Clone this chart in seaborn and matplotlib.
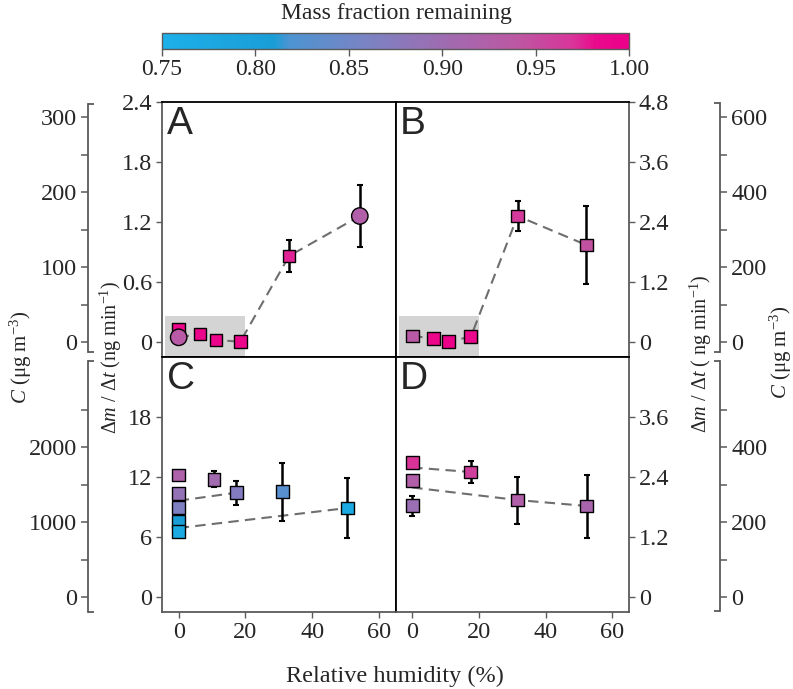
import numpy as np
import pandas as pd
import seaborn as sns
import matplotlib.pyplot as plt
import matplotlib.transforms as mtransforms
from matplotlib.colors import LinearSegmentedColormap, Normalize
from matplotlib.cm import ScalarMappable
from matplotlib.patches import Rectangle

# ---- data ----
# panel A
a_rh = [0, 0, 6.4, 11.2, 18.5, 33.1, 54.3]
a_rate = [0.127, 0.047, 0.08, 0.02, 0.003, 0.86, 1.26]
a_err = [0, 0, 0, 0, 0, 0.16, 0.31]
a_frac = [0.99, 0.935, 0.99, 0.99, 0.99, 0.975, 0.925]
a_shape = ["s", "o", "s", "s", "s", "s", "o"]
a_line_rh = [[0, 6.4, 11.2, 18.5, 33.1, 54.3]]
a_line_rate = [[0.047, 0.08, 0.02, 0.003, 0.86, 1.26]]

# panel B
b_rh = [0, 6.3, 10.8, 17.6, 31.6, 52.2]
b_rate = [0.12, 0.073, 0.007, 0.107, 2.52, 1.94]
b_err = [0, 0, 0, 0, 0.3, 0.78]
b_frac = [0.935, 0.99, 1.0, 0.985, 0.965, 0.945]
b_shape = ["s"] * 6
b_line_rh = [[0, 6.3, 10.8, 17.6, 31.6, 52.2]]
b_line_rate = [[0.12, 0.073, 0.007, 0.107, 2.52, 1.94]]

# panel C
c_rh = [0, 0, 0, 0, 0, 10.6, 17.3, 31.1, 50.6]
c_rate = [12.2, 10.33, 8.93, 7.53, 6.53, 11.77, 10.43, 10.53, 8.9]
c_err = [0, 0, 0, 0, 0, 0.8, 1.2, 2.9, 3.0]
c_frac = [0.92, 0.89, 0.865, 0.81, 0.77, 0.905, 0.87, 0.83, 0.77]
c_shape = ["s"] * 9
c_line_rh = [[0, 17.3], [0, 50.6]]
c_line_rate = [[9.63, 10.43], [6.9, 8.9]]

# panel D
d_rh = [0, 0, 0, 17.6, 31.5, 52.3]
d_rate = [2.69, 2.33, 1.83, 2.5, 1.94, 1.82]
d_err = [0, 0, 0.2, 0.22, 0.47, 0.63]
d_frac = [0.97, 0.925, 0.895, 0.96, 0.925, 0.915]
d_shape = ["s"] * 6
d_line_rh = [[0, 17.6], [0, 31.5, 52.3]]
d_line_rate = [[2.59, 2.5], [2.19, 1.94, 1.82]]

shade_rh = [-4, 20]
shade_top = [0.26, 0.52]

sns.set_theme(style="ticks")
plt.rcParams["font.family"] = ["Liberation Serif", "DejaVu Serif"]
plt.rcParams["mathtext.fontset"] = "custom"
plt.rcParams["mathtext.rm"] = "Liberation Serif"
plt.rcParams["mathtext.it"] = "Liberation Serif:italic"

TICK_FS = 17.5

cmap = LinearSegmentedColormap.from_list("mf", [
    (0.00, "#1DB0E9"), (0.24, "#1A9DD7"), (0.27, "#4C94D2"),
    (0.44, "#7B83C3"), (0.60, "#9E6CB1"), (0.76, "#BC58A3"),
    (0.88, "#D8359A"), (0.93, "#EA0A8C"), (1.00, "#EC008A")])
norm = Normalize(0.75, 1.0)

fig = plt.figure(figsize=(7.93, 6.89), dpi=100)
gs = fig.add_gridspec(2, 2, left=162 / 793, right=629 / 793,
                      top=1 - 102 / 689, bottom=1 - 612 / 689,
                      hspace=0, wspace=0)
axA = fig.add_subplot(gs[0, 0])
axB = fig.add_subplot(gs[0, 1])
axC = fig.add_subplot(gs[1, 0])
axD = fig.add_subplot(gs[1, 1])

panels = [
    (axA, "A", a_rh, a_rate, a_err, a_frac, a_shape, a_line_rh, a_line_rate, (-0.15, 2.4)),
    (axB, "B", b_rh, b_rate, b_err, b_frac, b_shape, b_line_rh, b_line_rate, (-0.3, 4.8)),
    (axC, "C", c_rh, c_rate, c_err, c_frac, c_shape, c_line_rh, c_line_rate, (-1.5, 24)),
    (axD, "D", d_rh, d_rate, d_err, d_frac, d_shape, d_line_rh, d_line_rate, (-0.3, 4.8)),
]

for ax, letter, rh, rate, err, frac, shape, lrh, lrate, ylim in panels:
    df = pd.DataFrame({"rh": rh, "rate": rate, "err": err, "frac": frac, "shape": shape})
    for lx, ly in zip(lrh, lrate):
        sns.lineplot(x=lx, y=ly, sort=False, estimator=None, ax=ax, color="#6e6e6e",
                     lw=1.5, linestyle=(0, (5, 3)), zorder=1)
    e = df[df["err"] > 0]
    ax.errorbar(e["rh"], e["rate"], yerr=e["err"], fmt="none", ecolor="black",
                elinewidth=1.8, capsize=2.5, capthick=1.5, zorder=2)
    sns.scatterplot(data=df, x="rh", y="rate", hue="frac", palette=cmap, hue_norm=norm,
                    style="shape", markers={"s": "s", "o": "o"},
                    size="shape", sizes={"s": 85, "o": 140},
                    edgecolor="black", linewidth=1.0, legend=False, ax=ax, zorder=3)
    ax.set_xlim(-5, 65)
    ax.set_ylim(*ylim)
    ax.set_xlabel("")
    ax.set_ylabel("")
    ax.text(0.02, 0.985, letter, transform=ax.transAxes, va="top", ha="left",
            fontsize=28, family="Liberation Sans")
    for s in ax.spines.values():
        s.set_color("black")
        s.set_linewidth(1.3)

# grey shaded low-RH region
for ax, top in zip([axA, axB], shade_top):
    y0 = ax.get_ylim()[0]
    ax.add_patch(Rectangle((shade_rh[0], y0), shade_rh[1] - shade_rh[0], top - y0,
                           facecolor="#d4d4d4", edgecolor="none", zorder=0))

GREY = "#5a5a5a"


def bracket_axis(host, side, offset, ticks, labels, bounds):
    tw = host.twinx()
    lo, hi = host.get_ylim()
    tw.set_ylim(lo * 400 / 3, hi * 400 / 3)
    for s in tw.spines.values():
        s.set_visible(False)
    sp = tw.spines[side]
    sp.set_visible(True)
    sp.set_position(("axes", offset))
    sp.set_bounds(*bounds)
    sp.set_color(GREY)
    sp.set_linewidth(1.3)
    if side == "left":
        tw.yaxis.tick_left()
    else:
        tw.yaxis.tick_right()
    tw.set_yticks(ticks, labels)
    tw.tick_params(axis="y", direction="out", length=5, width=1.1, color=GREY,
                   labelsize=TICK_FS, pad=3)
    cap = 0.025 if side == "left" else -0.025
    trans = mtransforms.blended_transform_factory(tw.transAxes, tw.transData)
    for b in bounds:
        tw.plot([offset, offset + cap], [b, b], transform=trans, color=GREY,
                lw=1.3, clip_on=False, solid_capstyle="butt")
    return tw


def lab(vals, every=2):
    return [str(v) if i % every == 0 else "" for i, v in enumerate(vals)]


lt = list(range(0, 301, 50))
bracket_axis(axA, "left", -0.317, lt, lab(lt), (-13, 318))
lt = list(range(0, 2501, 500))
bracket_axis(axC, "left", -0.317, lt, lab(lt), (-195, 3150))
rt = list(range(0, 601, 100))
bracket_axis(axB, "right", 1.39, rt, lab(rt), (-27, 637))
rt = list(range(0, 501, 100))
bracket_axis(axD, "right", 1.39, rt, lab(rt), (-38, 629))

# inner axis ticks
axA.yaxis.tick_left()
axA.set_yticks([0, 0.6, 1.2, 1.8, 2.4], ["0", "0.6", "1.2", "1.8", "2.4"])
axC.yaxis.tick_left()
axC.set_yticks([0, 6, 12, 18], ["0", "6", "12", "18"])
axB.yaxis.tick_right()
axB.set_yticks([0, 1.2, 2.4, 3.6, 4.8], ["0", "1.2", "2.4", "3.6", "4.8"])
axD.yaxis.tick_right()
axD.set_yticks([0, 1.2, 2.4, 3.6], ["0", "1.2", "2.4", "3.6"])
for ax in [axA, axB]:
    ax.set_xticks([])
for ax in [axC, axD]:
    ax.set_xticks([0, 20, 40, 60], ["0", "20", "40", "60"])
for ax in [axA, axB, axC, axD]:
    ax.tick_params(direction="out", length=4, width=1.0, color=GREY,
                   labelsize=TICK_FS, pad=3)

for ax in [axA, axC]:
    ax.spines["left"].set_color(GREY)
for ax in [axB, axD]:
    ax.spines["right"].set_color(GREY)
for ax in [axC, axD]:
    ax.spines["bottom"].set_color(GREY)

# axis labels
fig.text(0.026, 0.482, r"$\mathit{C}$ (μg m$^{-3}$)", rotation=90, ha="center",
         va="center", fontsize=15)
fig.text(0.140, 0.482, r"$\Delta\mathit{m}$ / $\Delta\mathit{t}$ (ng min$^{-1}$)",
         rotation=90, ha="center", va="center", fontsize=14.5)
fig.text(0.884, 0.486, r"$\Delta\mathit{m}$ / $\Delta\mathit{t}$ ( ng min$^{-1}$)",
         rotation=90, ha="center", va="center", fontsize=14.5)
fig.text(0.985, 0.488, r"$\mathit{C}$ (μg m$^{-3}$)", rotation=90, ha="center",
         va="center", fontsize=15)
fig.text(0.498, 0.019, "Relative humidity (%)", ha="center", va="center", fontsize=17.5)

# colour bar
cax = fig.add_axes([162 / 793, 1 - 49 / 689, 467 / 793, 16 / 689])
cb = fig.colorbar(ScalarMappable(norm=norm, cmap=cmap), cax=cax, orientation="horizontal",
                  ticks=[0.75, 0.80, 0.85, 0.90, 0.95, 1.00])
cb.ax.set_xticklabels(["0.75", "0.80", "0.85", "0.90", "0.95", "1.00"])
cb.ax.tick_params(direction="out", length=5, width=1.0, color=GREY, labelsize=17, pad=2)
cb.outline.set_edgecolor(GREY)
cb.outline.set_linewidth(1.0)
fig.text(0.50, 1 - 13 / 689, "Mass fraction remaining", ha="center", va="center",
         fontsize=17)

fig.savefig("out.png", dpi=100)
